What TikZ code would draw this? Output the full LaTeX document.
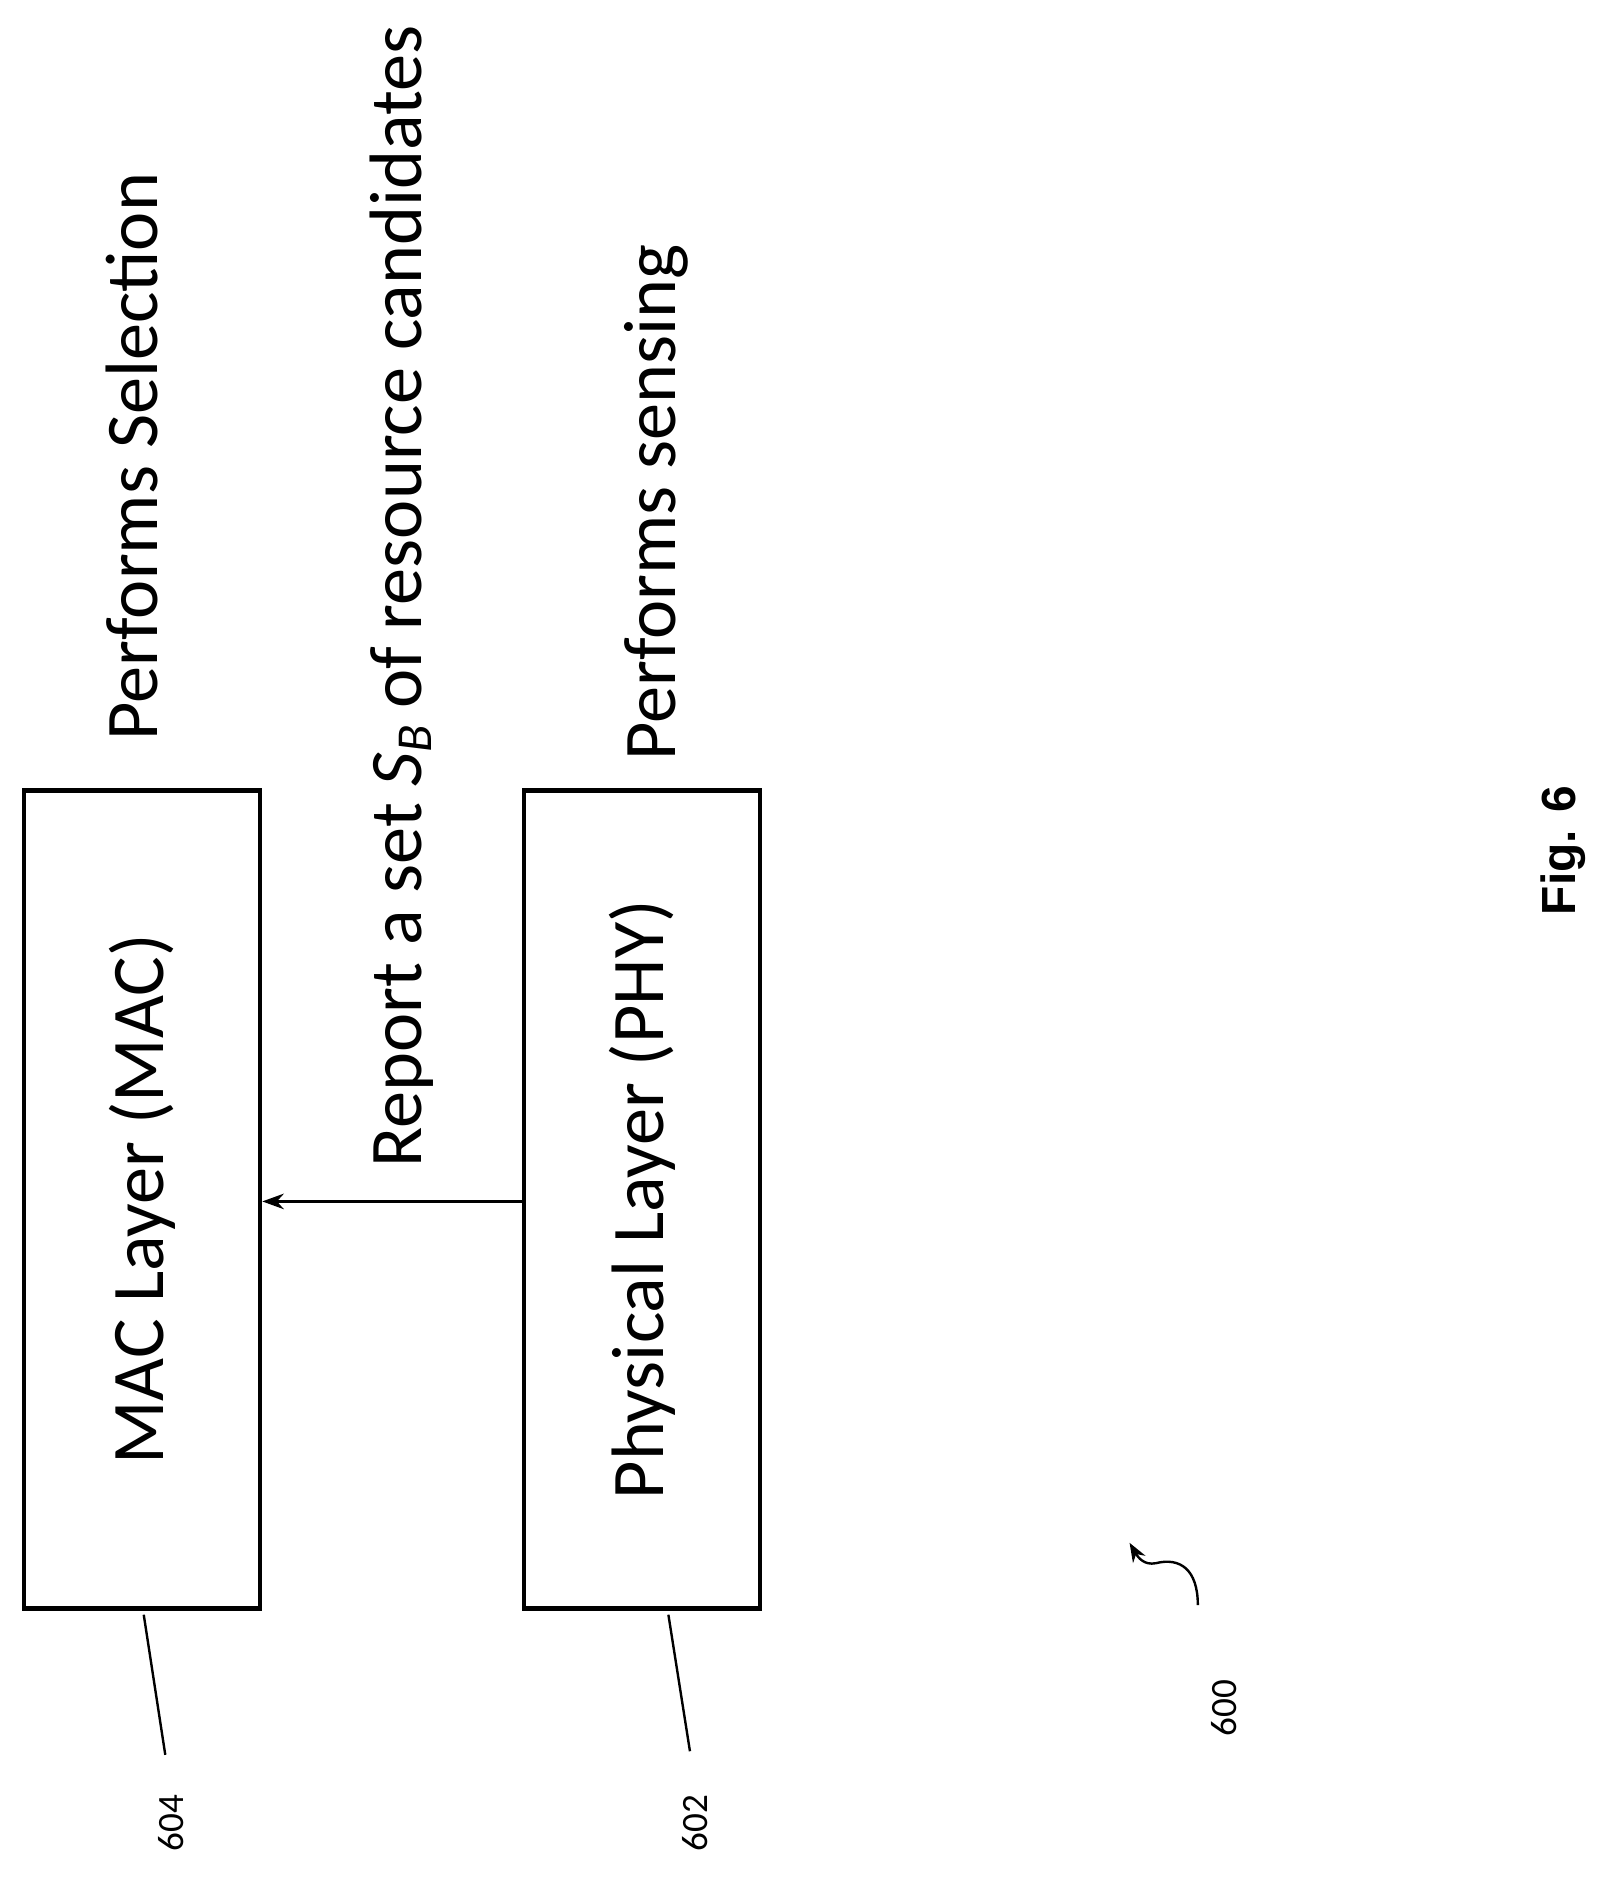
\documentclass[tikz,border=0pt]{standalone}
\usepackage{fontspec}
\setmainfont{Carlito}
\newfontfamily\figfont{Liberation Sans}
\usetikzlibrary{arrows.meta}
\begin{document}
\begin{tikzpicture}[x=1pt,y=-1pt]
\tikzset{layerbox/.style={draw,line width=4pt,minimum width=683pt,minimum height=197pt,rotate=90,inner sep=0pt,font=\fontsize{62}{72}\selectfont},
  lbl/.style={rotate=90,inner sep=0pt,font=\fontsize{62}{72}\selectfont},
  refnum/.style={rotate=90,inner sep=0pt,font=\fontsize{31}{36}\selectfont}}
\useasboundingbox (0,0) rectangle (1350,1567);
\node[layerbox] (mac) at (118.5,1001.5) {MAC Layer (MAC)};
\node[layerbox] (phy) at (536,1001.5) {Physical Layer (PHY)};
\draw[line width=2pt,-{Stealth[length=18pt,width=13pt]}] (phy.north |- 0,1003) -- (mac.south |- 0,1003);
\node[lbl,anchor=west] (sel) at (110,618) {Performs Selection};
\node[lbl,anchor=west] (rep) at (335,975) {Report a set \textit{S}\raisebox{-0.3ex}{\fontsize{42}{48}\selectfont\textit{B}} of resource candidates};
\node[lbl,anchor=west] (sens) at (548,635) {Performs sensing};
\node[rotate=90,inner sep=0pt,font=\figfont\bfseries\fontsize{40}{46}\selectfont] (fig) at (1305,710) {Fig. 6};
\node[refnum] (n604) at (143,1522) {604};
\node[refnum] (n602) at (580,1522) {602};
\node[refnum] (n600) at (1022,1426) {600};
\draw[line width=2pt] (120,1348) -- (138,1465);
\draw[line width=2pt] (558,1348) -- (576,1462);
\draw[line width=2pt,-{Stealth[length=16pt,width=12pt]}] (1000,1340) .. controls (1000,1310) and (985,1300) .. (965,1305) .. controls (955,1307) and (950,1300) .. (943,1288);
\end{tikzpicture}
\end{document}
